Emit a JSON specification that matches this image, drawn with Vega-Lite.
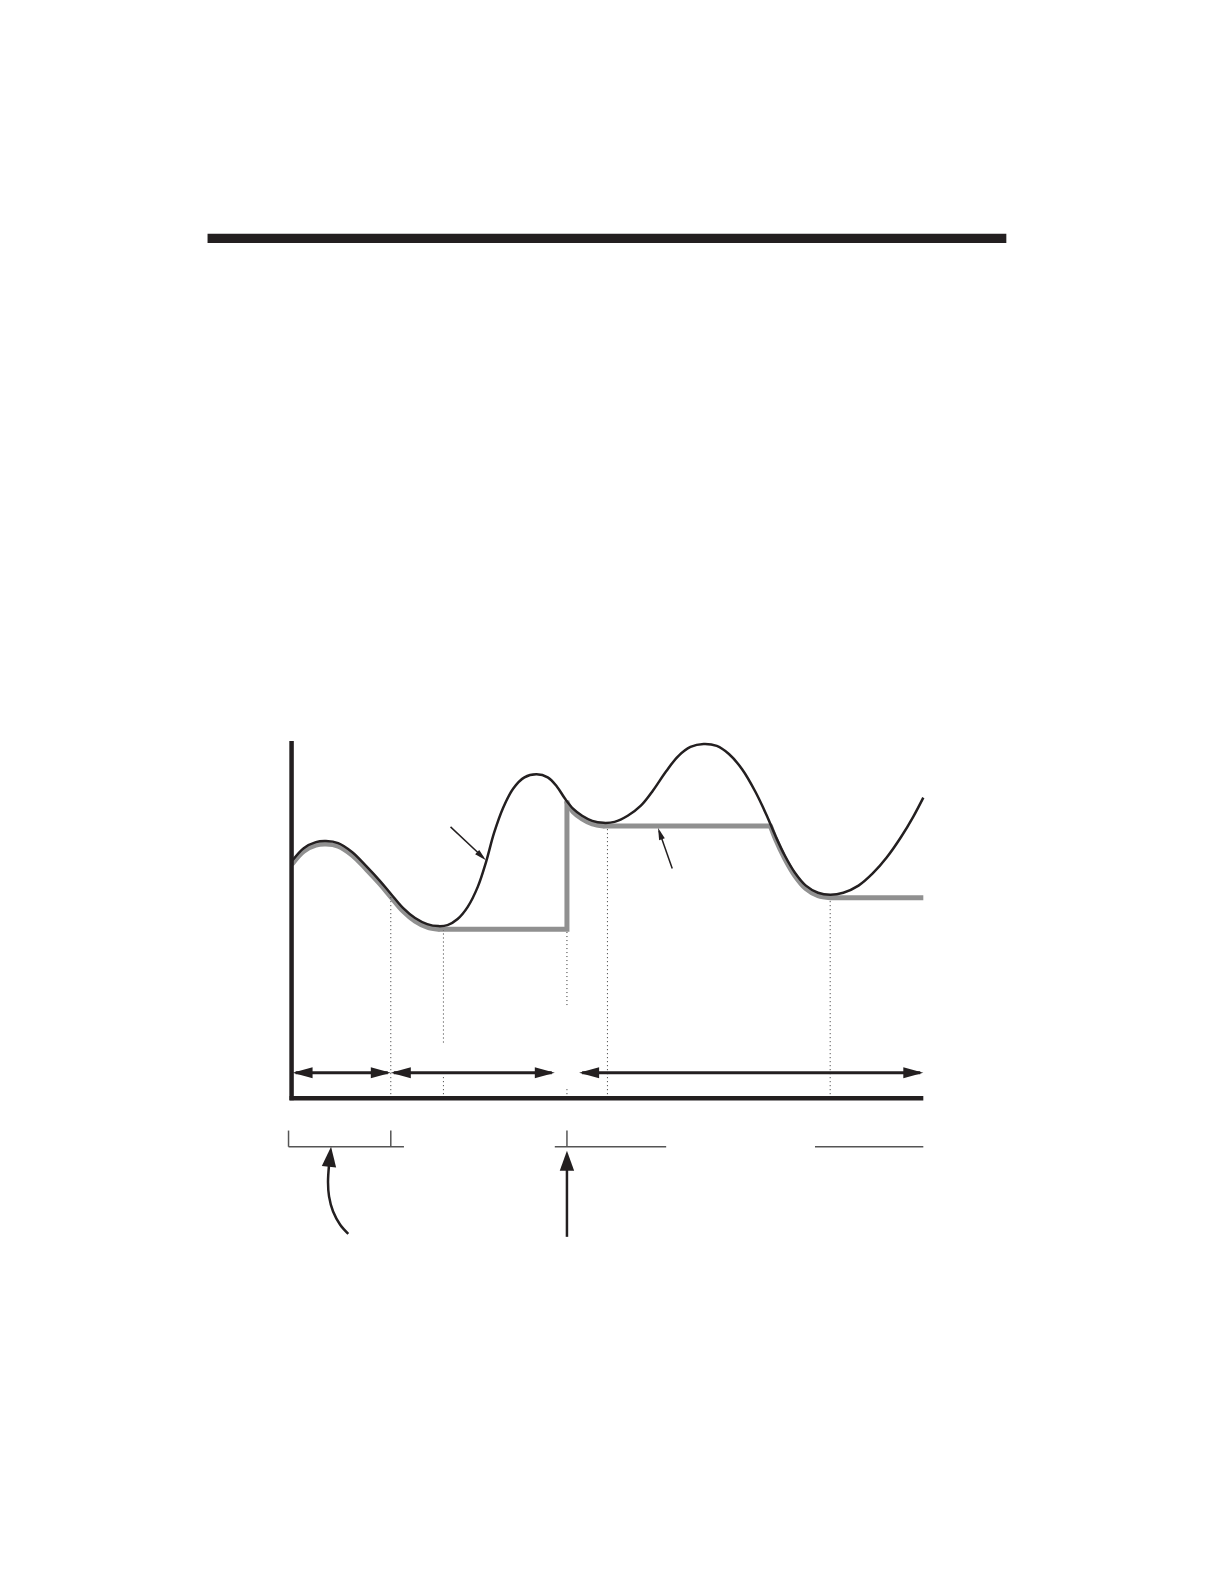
{
  "$schema": "https://vega.github.io/schema/vega-lite/v6.json",
  "width": 1224,
  "height": 1584,
  "autosize": {"type": "fit", "contains": "padding"},
  "padding": 0,
  "background": "white",
  "config": {"view": {"stroke": null}},
  "datasets": {
    "bar": [{"t": -83, "v": 845, "t2": 706, "v2": 854}],
    "axes": [
      {"t": 0, "v": -2, "t2": 0, "v2": 353},
      {"t": -2, "v": 0, "t2": 624, "v2": 0}
    ],
    "black": [
      {"t": 1, "v": 235}, {"t": 12, "v": 247}, {"t": 24, "v": 253}, {"t": 34, "v": 254},
      {"t": 46, "v": 252}, {"t": 60, "v": 243}, {"t": 74, "v": 229}, {"t": 87, "v": 215},
      {"t": 98, "v": 202}, {"t": 110, "v": 188}, {"t": 122, "v": 178}, {"t": 134, "v": 172},
      {"t": 145, "v": 170}, {"t": 154, "v": 171}, {"t": 164, "v": 177}, {"t": 174, "v": 189},
      {"t": 184, "v": 209}, {"t": 192, "v": 233}, {"t": 200, "v": 262}, {"t": 209, "v": 287},
      {"t": 219, "v": 306}, {"t": 230, "v": 317}, {"t": 242, "v": 320}, {"t": 253, "v": 317},
      {"t": 262, "v": 308}, {"t": 270, "v": 296}, {"t": 278, "v": 286}, {"t": 287, "v": 279},
      {"t": 297, "v": 274}, {"t": 308, "v": 272}, {"t": 319, "v": 273}, {"t": 332, "v": 279},
      {"t": 345, "v": 289}, {"t": 357, "v": 304}, {"t": 370, "v": 323}, {"t": 382, "v": 338},
      {"t": 394, "v": 347}, {"t": 407, "v": 350}, {"t": 420, "v": 348}, {"t": 432, "v": 340},
      {"t": 445, "v": 325}, {"t": 458, "v": 303}, {"t": 469, "v": 280}, {"t": 478, "v": 259},
      {"t": 487, "v": 240}, {"t": 497, "v": 223}, {"t": 508, "v": 210}, {"t": 520, "v": 203},
      {"t": 532, "v": 201}, {"t": 545, "v": 203}, {"t": 560, "v": 210}, {"t": 574, "v": 222},
      {"t": 588, "v": 238}, {"t": 602, "v": 258}, {"t": 614, "v": 278}, {"t": 624, "v": 297}
    ],
    "gray": [
      {"seg": "c1", "kind": "curve", "i": 1, "t": 1, "v": 232},
      {"seg": "c1", "kind": "curve", "i": 2, "t": 12, "v": 244},
      {"seg": "c1", "kind": "curve", "i": 3, "t": 24, "v": 250},
      {"seg": "c1", "kind": "curve", "i": 4, "t": 34, "v": 251},
      {"seg": "c1", "kind": "curve", "i": 5, "t": 46, "v": 249},
      {"seg": "c1", "kind": "curve", "i": 6, "t": 60, "v": 240},
      {"seg": "c1", "kind": "curve", "i": 7, "t": 74, "v": 226},
      {"seg": "c1", "kind": "curve", "i": 8, "t": 87, "v": 212},
      {"seg": "c1", "kind": "curve", "i": 9, "t": 98, "v": 199},
      {"seg": "c1", "kind": "curve", "i": 10, "t": 110, "v": 185},
      {"seg": "c1", "kind": "curve", "i": 11, "t": 122, "v": 175},
      {"seg": "c1", "kind": "curve", "i": 12, "t": 134, "v": 169},
      {"seg": "c1", "kind": "curve", "i": 13, "t": 145, "v": 167},
      {"seg": "s1", "kind": "flat", "i": 14, "t": 145, "v": 167},
      {"seg": "s1", "kind": "flat", "i": 15, "t": 272, "v": 167},
      {"seg": "s1", "kind": "flat", "i": 16, "t": 272, "v": 294},
      {"seg": "c2", "kind": "curve", "i": 17, "t": 272, "v": 292},
      {"seg": "c2", "kind": "curve", "i": 18, "t": 278, "v": 283},
      {"seg": "c2", "kind": "curve", "i": 19, "t": 287, "v": 276},
      {"seg": "c2", "kind": "curve", "i": 20, "t": 297, "v": 271},
      {"seg": "c2", "kind": "curve", "i": 21, "t": 308, "v": 269},
      {"seg": "s2", "kind": "flat", "i": 22, "t": 308, "v": 269},
      {"seg": "s2", "kind": "flat", "i": 23, "t": 473, "v": 269},
      {"seg": "c3", "kind": "curve", "i": 24, "t": 473, "v": 269},
      {"seg": "c3", "kind": "curve", "i": 25, "t": 478, "v": 256},
      {"seg": "c3", "kind": "curve", "i": 26, "t": 487, "v": 237},
      {"seg": "c3", "kind": "curve", "i": 27, "t": 497, "v": 220},
      {"seg": "c3", "kind": "curve", "i": 28, "t": 508, "v": 207},
      {"seg": "c3", "kind": "curve", "i": 29, "t": 520, "v": 200},
      {"seg": "c3", "kind": "curve", "i": 30, "t": 532, "v": 198},
      {"seg": "s3", "kind": "flat", "i": 31, "t": 532, "v": 198},
      {"seg": "s3", "kind": "flat", "i": 32, "t": 624, "v": 198}
    ],
    "dotted": [
      {"t": 98, "v": 0, "t2": 98, "v2": 202},
      {"t": 150, "v": 55, "t2": 150, "v2": 166},
      {"t": 150, "v": 0, "t2": 150, "v2": 22},
      {"t": 272, "v": 92, "t2": 272, "v2": 165},
      {"t": 272, "v": 0, "t2": 272, "v2": 10},
      {"t": 312, "v": 0, "t2": 312, "v2": 267},
      {"t": 532, "v": 0, "t2": 532, "v2": 197}
    ],
    "spans": [
      {"t": 4, "v": 25, "t2": 95, "v2": 25},
      {"t": 101, "v": 25, "t2": 257, "v2": 25},
      {"t": 287, "v": 25, "t2": 621, "v2": 25}
    ],
    "heads": [
      {"dir": "left", "t": 1, "v": 25},
      {"dir": "right", "t": 98, "v": 25},
      {"dir": "left", "t": 98, "v": 25},
      {"dir": "right", "t": 260, "v": 25},
      {"dir": "left", "t": 284, "v": 25},
      {"dir": "right", "t": 624, "v": 25}
    ],
    "pointers": [
      {"name": "curve", "t": 157, "v": 268, "t2": 189, "v2": 238},
      {"name": "floor", "t": 376, "v": 227, "t2": 363, "v2": 264}
    ],
    "pointerHeads": [
      {"name": "curve", "t": 192, "v": 235},
      {"name": "floor", "t": 362, "v": 267}
    ],
    "brackets": [
      {"t": -3, "v": -48, "t2": 111, "v2": -48},
      {"t": -3, "v": -48, "t2": -3, "v2": -32},
      {"t": 98, "v": -48, "t2": 98, "v2": -32},
      {"t": 260, "v": -48, "t2": 370, "v2": -48},
      {"t": 272, "v": -48, "t2": 272, "v2": -32},
      {"t": 517, "v": -48, "t2": 624, "v2": -48}
    ],
    "bend": [
      {"i": 1, "t": 56, "v": -134},
      {"i": 2, "t": 48, "v": -125},
      {"i": 3, "t": 41, "v": -112},
      {"i": 4, "t": 37, "v": -97},
      {"i": 5, "t": 36, "v": -83},
      {"i": 6, "t": 37, "v": -66}
    ],
    "bendHead": [{"t": 39, "v": -48}],
    "stem": [{"t": 272, "v": -137, "t2": 272, "v2": -66}],
    "stemHead": [{"t": 272, "v": -52}]
  },
  "encoding": {
    "x": {"field": "t", "type": "quantitative", "scale": {"domain": [-288, 921], "nice": false, "zero": false}, "axis": null},
    "y": {"field": "v", "type": "quantitative", "scale": {"domain": [-480, 1085], "nice": false, "zero": false}, "axis": null}
  },
  "layer": [
    {
      "data": {"name": "bar"},
      "mark": {"type": "rect", "color": "#231f20"},
      "encoding": {"x2": {"field": "t2"}, "y2": {"field": "v2"}}
    },
    {
      "data": {"name": "gray"},
      "transform": [{"filter": "datum.kind == 'curve'"}],
      "mark": {"type": "line", "color": "#909090", "strokeWidth": 5, "interpolate": "catmull-rom", "strokeCap": "round"},
      "encoding": {"detail": {"field": "seg"}, "order": {"field": "i", "type": "quantitative"}}
    },
    {
      "data": {"name": "gray"},
      "transform": [{"filter": "datum.kind == 'flat'"}],
      "mark": {"type": "line", "color": "#909090", "strokeWidth": 5, "interpolate": "linear", "strokeJoin": "miter"},
      "encoding": {"detail": {"field": "seg"}, "order": {"field": "i", "type": "quantitative"}}
    },
    {
      "data": {"name": "black"},
      "mark": {"type": "line", "color": "#231f20", "strokeWidth": 2.5, "interpolate": "catmull-rom"}
    },
    {
      "data": {"name": "dotted"},
      "mark": {"type": "rule", "color": "#333333", "strokeWidth": 1, "strokeDash": [1, 3]},
      "encoding": {"x2": {"field": "t2"}, "y2": {"field": "v2"}}
    },
    {
      "data": {"name": "axes"},
      "mark": {"type": "rule", "color": "#231f20", "strokeWidth": 4.5},
      "encoding": {"x2": {"field": "t2"}, "y2": {"field": "v2"}}
    },
    {
      "data": {"name": "spans"},
      "mark": {"type": "rule", "color": "#231f20", "strokeWidth": 3},
      "encoding": {"x2": {"field": "t2"}, "y2": {"field": "v2"}}
    },
    {
      "data": {"name": "heads"},
      "transform": [{"filter": "datum.dir == 'right'"}],
      "mark": {"type": "point", "shape": "M0,0L-2,-0.55L-2,0.55Z", "size": 400, "filled": true, "opacity": 1, "color": "#231f20", "strokeWidth": 0}
    },
    {
      "data": {"name": "heads"},
      "transform": [{"filter": "datum.dir == 'left'"}],
      "mark": {"type": "point", "shape": "M0,0L2,-0.55L2,0.55Z", "size": 400, "filled": true, "opacity": 1, "color": "#231f20", "strokeWidth": 0}
    },
    {
      "data": {"name": "pointers"},
      "mark": {"type": "rule", "color": "#231f20", "strokeWidth": 1.5},
      "encoding": {"x2": {"field": "t2"}, "y2": {"field": "v2"}}
    },
    {
      "data": {"name": "pointerHeads"},
      "transform": [{"filter": "datum.name == 'curve'"}],
      "mark": {"type": "point", "shape": "M0,0L-2,-0.5L-2,0.5Z", "size": 144, "angle": 43, "filled": true, "opacity": 1, "color": "#231f20", "strokeWidth": 0}
    },
    {
      "data": {"name": "pointerHeads"},
      "transform": [{"filter": "datum.name == 'floor'"}],
      "mark": {"type": "point", "shape": "M0,0L-2,-0.5L-2,0.5Z", "size": 144, "angle": 251, "filled": true, "opacity": 1, "color": "#231f20", "strokeWidth": 0}
    },
    {
      "data": {"name": "brackets"},
      "mark": {"type": "rule", "color": "#555555", "strokeWidth": 1.5},
      "encoding": {"x2": {"field": "t2"}, "y2": {"field": "v2"}}
    },
    {
      "data": {"name": "bend"},
      "mark": {"type": "line", "color": "#231f20", "strokeWidth": 2.5, "interpolate": "catmull-rom"},
      "encoding": {"order": {"field": "i", "type": "quantitative"}}
    },
    {
      "data": {"name": "bendHead"},
      "mark": {"type": "point", "shape": "M0,0L-0.72,2L0.72,2Z", "size": 400, "angle": 6, "filled": true, "opacity": 1, "color": "#231f20", "strokeWidth": 0}
    },
    {
      "data": {"name": "stem"},
      "mark": {"type": "rule", "color": "#231f20", "strokeWidth": 2.5},
      "encoding": {"x2": {"field": "t2"}, "y2": {"field": "v2"}}
    },
    {
      "data": {"name": "stemHead"},
      "mark": {"type": "point", "shape": "M0,0L-0.72,2L0.72,2Z", "size": 400, "filled": true, "opacity": 1, "color": "#231f20", "strokeWidth": 0}
    }
  ]
}
